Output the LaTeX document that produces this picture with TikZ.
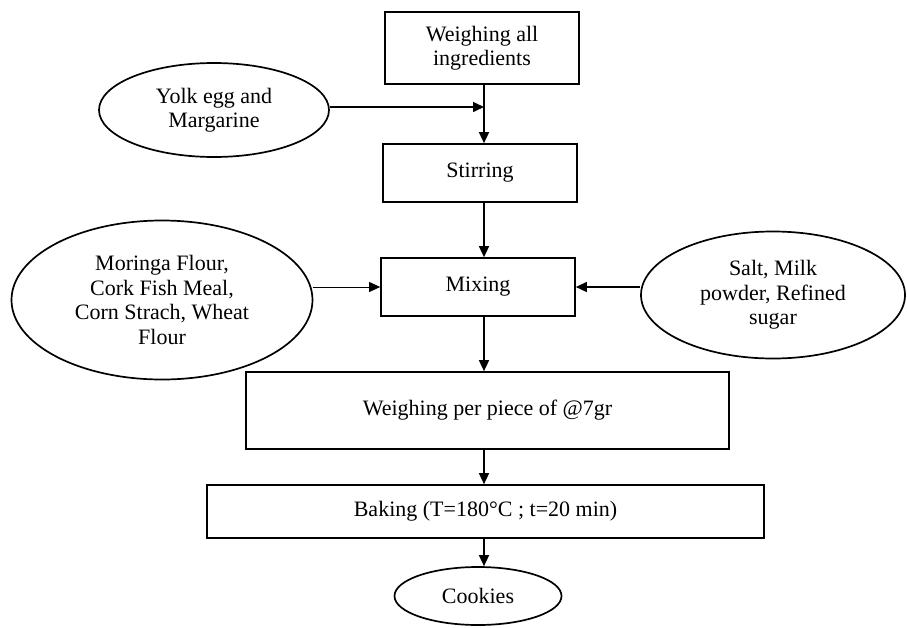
\documentclass[tikz,border=0pt]{standalone}
\usepackage{fontspec}
\setmainfont{Liberation Serif}
\usetikzlibrary{arrows.meta,shapes.geometric}
\begin{document}
\begin{tikzpicture}[x=1pt,y=-1pt,
  txt/.style={font=\fontsize{22}{24.5}\selectfont,align=center,inner sep=0pt},
  box/.style={txt,draw,rectangle,line width=1.7pt},
  oval/.style={txt,draw,ellipse,line width=1.7pt},
  arr/.style={line width=1.5pt,-{Triangle[length=11pt,width=10pt]}},
  thinarr/.style={line width=0.9pt,-{Triangle[length=11pt,width=10pt]}}]
\useasboundingbox (0,0) rectangle (907,627);
\coordinate (spine) at (484,0);
\node[box,minimum width=194pt,minimum height=72pt] (top) at (482,48) {Weighing all\\ingredients};
\node[box,minimum width=194pt,minimum height=58pt] (stir) at (480,173) {Stirring};
\node[box,minimum width=194pt,minimum height=58pt] (mix) at (478,287) {Mixing};
\node[box,minimum width=483pt,minimum height=77pt] (weigh) at (487.5,410.5) {Weighing per piece of @7gr};
\node[box,minimum width=557pt,minimum height=53pt] (bake) at (485.5,511.5) {Baking (T=180°C ; t=20 min)};
\node[oval,minimum width=167pt,minimum height=58pt] (cook) at (478,596) {Cookies};
\node[oval,minimum width=230pt,minimum height=94pt] (yolk) at (214,110) {Yolk egg and\\Margarine};
\node[oval,minimum width=301pt,minimum height=159pt] (mor) at (162,300) {Moringa Flour,\\Cork Fish Meal,\\Corn Strach, Wheat\\Flour};
\node[oval,minimum width=264pt,minimum height=127pt] (salt) at (773,295) {Salt, Milk\\powder, Refined\\sugar};
\coordinate (yin) at (spine |- 107,107);
\draw[arr] (top.south -| spine) -- (stir.north -| spine);
\draw[arr] (yolk.east |- yin) -- (yin);
\draw[arr] (stir.south -| spine) -- (mix.north -| spine);
\draw[thinarr] (mor.east |- 0,287) -- (mix.west |- 0,287);
\draw[arr] (salt.west |- 0,287) -- (mix.east |- 0,287);
\draw[arr] (mix.south -| spine) -- (weigh.north -| spine);
\draw[arr] (weigh.south -| spine) -- (bake.north -| spine);
\draw[arr] (bake.south -| spine) -- (cook.north -| spine);
\end{tikzpicture}
\end{document}
